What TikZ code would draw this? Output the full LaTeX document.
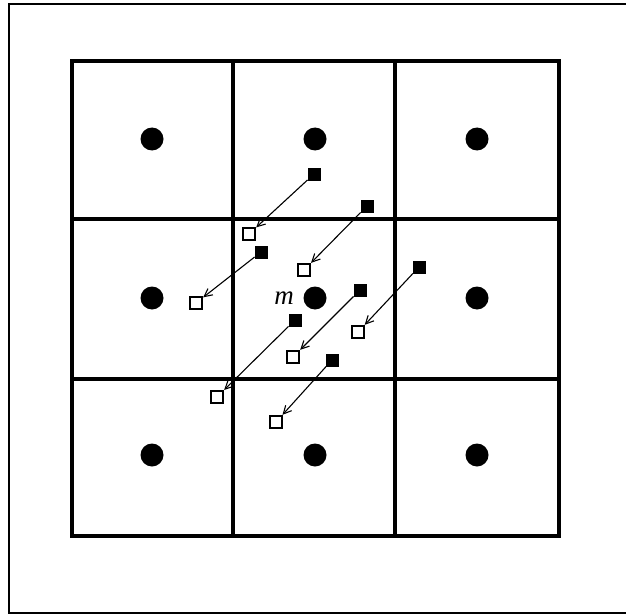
\documentclass[tikz,border=0pt]{standalone}
\usepackage{fontspec}
\setmainfont{Liberation Serif}
\usetikzlibrary{arrows.meta, positioning}

\tikzset{
  cellline/.style={line width=3.5pt},
  centre/.style={circle, fill=black, minimum size=23pt, inner sep=0pt},
  srcbox/.style={rectangle, draw=black, fill=black, minimum size=12.5pt, inner sep=0pt},
  dstbox/.style={rectangle, draw=black, line width=1.6pt, fill=white, minimum size=12pt, inner sep=0pt},
  shift arrow/.style={line width=1.1pt, -{Straight Barb[length=8pt, width=8pt, line width=1.1pt]}, shorten >=0.5pt}
}

\begin{document}
\begin{tikzpicture}[x=1pt, y=-1pt]
  \useasboundingbox (0,0) rectangle (626,615);

  %--- outer frame ---
  \draw[line width=1.8pt] (626,4) -- (9,4) -- (9,613) -- (626,613);

  %--- 3x3 cells ---
  \draw[cellline] (72,61) rectangle (559,536);
  \draw[cellline] (233,61) -- (233,536);
  \draw[cellline] (395,61) -- (395,536);
  \draw[cellline] (72,219) -- (559,219);
  \draw[cellline] (72,379) -- (559,379);

  %--- cell centres ---
  \foreach \cx/\col in {152/a, 315/b, 477/c}
    \foreach \cy/\row in {139/1, 298/2, 455/3}
      \node[centre] (c\col\row) at (\cx,\cy) {};
  \node[left=6pt of cb2, font=\fontsize{27}{29}\selectfont\itshape] (mlab) {m};

  %--- shifted points: old (filled) -> new (open) ---
  \foreach \i/\sx/\sy/\tx/\ty in {
      1/314/174/249/234,
      2/367/206/304/270,
      3/261/252/196/303,
      4/419/267/358/332,
      5/360/290/293/357,
      6/295/320/217/397,
      7/332/360/276/422} {
    \node[srcbox] (s\i) at (\sx,\sy) {};
    \node[dstbox] (t\i) at (\tx,\ty) {};
    \draw[shift arrow] (s\i) -- (t\i);
  }
\end{tikzpicture}
\end{document}
